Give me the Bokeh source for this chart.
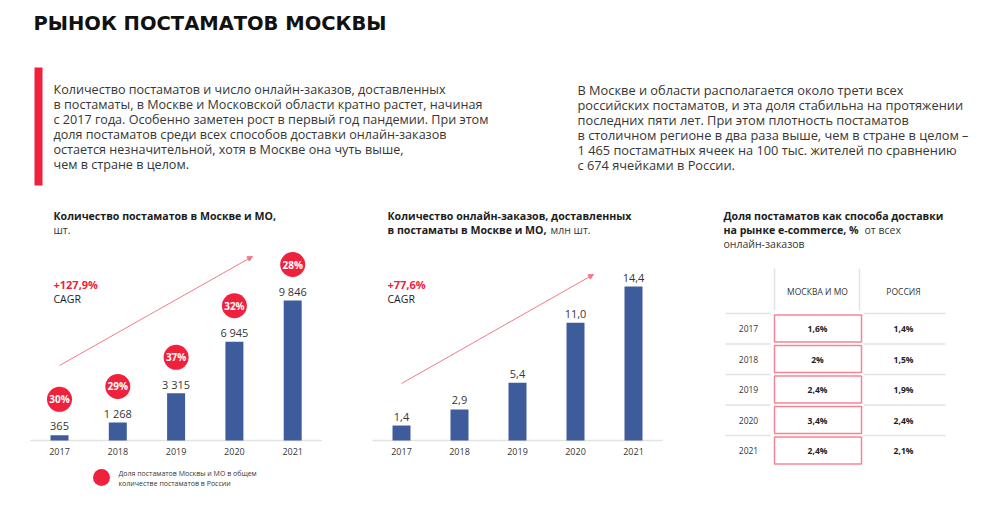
from bokeh.plotting import figure
from bokeh.models import Range1d, Arrow, NormalHead
from bokeh.embed import file_html
from bokeh.resources import INLINE
from bokeh.core.properties import value

# ---------------- data ----------------
years = [2017, 2018, 2019, 2020, 2021]
year_labels = ["2017", "2018", "2019", "2020", "2021"]
lockers = [365, 1268, 3315, 6945, 9846]
locker_labels = ["365", "1 268", "3 315", "6 945", "9 846"]
msk_share_of_russia = ["30%", "29%", "37%", "32%", "28%"]
orders = [1.4, 2.9, 5.4, 11.0, 14.4]
order_labels = ["1,4", "2,9", "5,4", "11,0", "14,4"]
table_moscow = ["1,6%", "2%", "2,4%", "3,4%", "2,4%"]
table_russia = ["1,4%", "1,5%", "1,9%", "2,4%", "2,1%"]
cagr_lockers = "+127,9%"
cagr_orders = "+77,6%"

title = "РЫНОК ПОСТАМАТОВ МОСКВЫ"
left_par = [
    "Количество постаматов и число онлайн-заказов, доставленных",
    "в постаматы, в Москве и Московской области кратно растет, начиная",
    "с 2017 года. Особенно заметен рост в первый год пандемии. При этом",
    "доля постаматов среди всех способов доставки онлайн-заказов",
    "остается незначительной, хотя в Москве она чуть выше,",
    "чем в стране в целом.",
]
right_par = [
    "В Москве и области располагается около трети всех",
    "российских постаматов, и эта доля стабильна на протяжении",
    "последних пяти лет. При этом плотность постаматов",
    "в столичном регионе в два раза выше, чем в стране в целом –",
    "1 465 постаматных ячеек на 100 тыс. жителей по сравнению",
    "с 674 ячейками в России.",
]

# ---------------- styles ----------------
RED = "#f0213d"
BLUE = "#3e5c9b"
DARK = "#1c1c1c"
TXT = "#363636"
GRAY_LINE = "#e3e3e3"
PINK = "#f58494"
ARROW = "#f47a88"
F = value("Open Sans")
FT = value("DejaVu Sans")

W, H = 984, 499
# coordinates below are in image pixels (x to the right, y downward)
p = figure(width=W, height=H, x_range=Range1d(0, W), y_range=Range1d(H, 0),
           min_border=0, toolbar_location=None, output_backend="svg",
           x_axis_type=None, y_axis_type=None, outline_line_color=None)
p.grid.visible = False
p.background_fill_color = "white"


def txt(x, y, t, size, color=TXT, bold=False, align="left", font=F, **kw):
    p.text(x=x, y=y, text=t, text_font=font, text_font_size=size, text_color=color,
           text_font_style="bold" if bold else "normal", text_align=align,
           text_baseline="middle", **kw)


# title
txt([33], [23], [title], "19.5px", color="#111111", bold=True, font=FT)

# red accent bar
p.quad(left=[34], right=[42], top=[67], bottom=[185], fill_color=RED, line_color=None)

# paragraphs
LINE_Y0, LINE_DY = 89, 15
txt([53] * 6, [LINE_Y0 + i * LINE_DY for i in range(6)], left_par, "12.6px")
txt([577] * 6, [LINE_Y0 + i * LINE_DY for i in range(6)], right_par, "12.8px")

# ---------------- chart 1 ----------------
BASE = 440
X0_1, DX_1, H1 = 59, 58.3, 140
k1 = H1 / max(lockers)
p.extra_x_ranges["c1x"] = Range1d(years[0] + (0 - X0_1) / DX_1, years[0] + (W - X0_1) / DX_1)
p.extra_y_ranges["c1y"] = Range1d((BASE - H) / k1, (BASE - 0) / k1)
r1 = dict(x_range_name="c1x", y_range_name="c1y")

txt([53], [215], ["Количество постаматов в Москве и МО,"], "10.6px", color=DARK, bold=True)
txt([53], [229], ["шт."], "10.5px", color=TXT)
txt([53], [284], [cagr_lockers], "11px", color=RED, bold=True)
txt([53], [298], ["CAGR"], "10.5px", color=DARK)

p.add_layout(Arrow(end=NormalHead(size=5, fill_color=ARROW, line_color=ARROW),
                   x_start=59, y_start=365, x_end=252, y_end=256,
                   line_color=ARROW, line_width=1))

p.segment(x0=[years[0] - 0.5], x1=[years[-1] + 0.5], y0=[0], y1=[0],
          line_color=GRAY_LINE, line_width=1.5, **r1)
p.vbar(x=years, top=lockers, bottom=0, width=18 / DX_1, fill_color=BLUE, line_color=None, **r1)
p.text(x=years, y=lockers, text=locker_labels, text_font=F, text_font_size="11px",
       text_color=TXT, text_align="center", text_baseline="middle", y_offset=-9, **r1)
p.text(x=years, y=[0] * 5, text=year_labels, text_font=F, text_font_size="9px",
       text_color=TXT, text_align="center", text_baseline="middle", y_offset=11, **r1)
circle_y = [v + 36 / k1 for v in lockers]
p.scatter(x=years, y=circle_y, size=25, fill_color=RED, line_color=None, **r1)
p.text(x=years, y=circle_y, text=msk_share_of_russia, text_font=F, text_font_size="10px",
       text_color="white", text_font_style="bold", text_align="center",
       text_baseline="middle", **r1)

# legend
p.scatter(x=[101], y=[477], size=17, fill_color=RED, line_color=None)
txt([118, 118], [473, 483], ["Доля постаматов Москвы и МО в общем",
                             "количестве постаматов в России"], "7px", color=TXT)

# ---------------- chart 2 ----------------
X0_2, DX_2, H2 = 401, 58, 154
k2 = H2 / max(orders)
p.extra_x_ranges["c2x"] = Range1d(years[0] + (0 - X0_2) / DX_2, years[0] + (W - X0_2) / DX_2)
p.extra_y_ranges["c2y"] = Range1d((BASE - H) / k2, (BASE - 0) / k2)
r2 = dict(x_range_name="c2x", y_range_name="c2y")

txt([387], [215], ["Количество онлайн-заказов, доставленных"], "10.6px", color=DARK, bold=True)
txt([387], [229], ["в постаматы в Москве и МО,"], "10.6px", color=DARK, bold=True)
txt([550], [229], ["млн шт."], "10.5px", color=TXT)
txt([387], [284], [cagr_orders], "11px", color=RED, bold=True)
txt([387], [298], ["CAGR"], "10.5px", color=DARK)

p.add_layout(Arrow(end=NormalHead(size=5, fill_color=ARROW, line_color=ARROW),
                   x_start=401, y_start=383, x_end=593, y_end=274,
                   line_color=ARROW, line_width=1))

p.segment(x0=[years[0] - 0.5], x1=[years[-1] + 0.5], y0=[0], y1=[0],
          line_color=GRAY_LINE, line_width=1.5, **r2)
p.vbar(x=years, top=orders, bottom=0, width=18 / DX_2, fill_color=BLUE, line_color=None, **r2)
p.text(x=years, y=orders, text=order_labels, text_font=F, text_font_size="11px",
       text_color=TXT, text_align="center", text_baseline="middle", y_offset=-9, **r2)
p.text(x=years, y=[0] * 5, text=year_labels, text_font=F, text_font_size="9px",
       text_color=TXT, text_align="center", text_baseline="middle", y_offset=11, **r2)

# ---------------- table ----------------
txt([723], [215], ["Доля постаматов как способа доставки"], "10.6px", color=DARK, bold=True)
txt([723], [229], ["на рынке e-commerce, %"], "10.6px", color=DARK, bold=True)
txt([864], [229], ["от всех"], "10.5px", color=TXT)
txt([723], [243], ["онлайн-заказов"], "10.5px", color=TXT)

COL1, COL2, COL3 = 748, 817, 903
V1, V2 = 774, 859
ROW0, ROW_H = 313, 30.5
p.segment(x0=[V1, V2], x1=[V1, V2], y0=[268, 268], y1=[310, 310],
          line_color=GRAY_LINE, line_width=1.5)
txt([COL2, COL3], [291, 291], ["МОСКВА И МО", "РОССИЯ"], "8.5px", color=TXT, align="center")

n = len(year_labels)
row_top = [ROW0 + i * ROW_H for i in range(n)]
row_mid = [t + ROW_H / 2 for t in row_top]
p.segment(x0=[725] * n, x1=[770] * n, y0=row_top, y1=row_top, line_color=GRAY_LINE, line_width=1.5)
p.segment(x0=[863] * n, x1=[945] * n, y0=row_top, y1=row_top, line_color=GRAY_LINE, line_width=1.5)
p.quad(left=[V1] * n, right=[861] * n, top=[t + 1.5 for t in row_top],
       bottom=[t + ROW_H - 2 for t in row_top], fill_color=None,
       line_color=PINK, line_width=1.5)
txt([COL1] * n, row_mid, year_labels, "8.5px", color=TXT, align="center")
txt([COL2] * n, row_mid, table_moscow, "8.5px", color=DARK, bold=True, align="center")
txt([COL3] * n, row_mid, table_russia, "8.5px", color=DARK, bold=True, align="center")

open("out.html", "w").write(file_html(p, INLINE))
